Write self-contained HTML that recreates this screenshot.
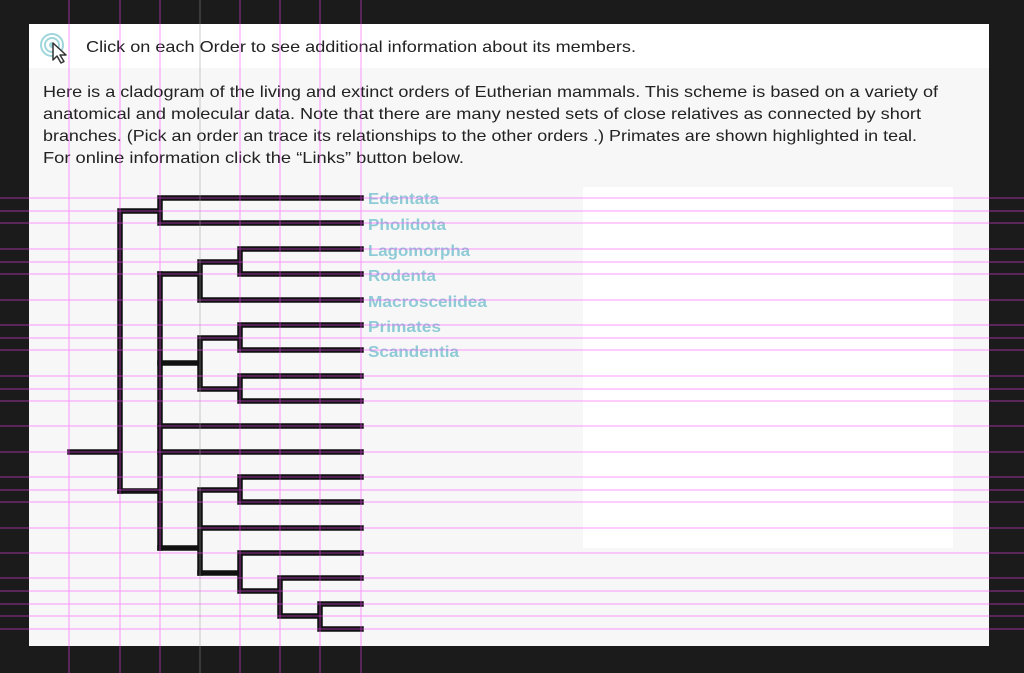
<!DOCTYPE html>
<html><head><meta charset="utf-8"><style>
html,body{margin:0;padding:0;background:#1b1b1b;width:1024px;height:673px;overflow:hidden}
svg{display:block}
text{font-family:"Liberation Sans",sans-serif}
</style></head><body>
<svg width="1024" height="673" viewBox="0 0 1024 673" xmlns="http://www.w3.org/2000/svg">
<rect x="0" y="0" width="1024" height="673" fill="#1b1b1b"/>
<rect x="29" y="24" width="960" height="622" fill="#f7f7f7"/>
<rect x="29" y="24" width="960" height="44" fill="#ffffff"/>
<rect x="583" y="187" width="370" height="361" fill="#ffffff"/>
<!-- icon -->
<circle cx="52" cy="45" r="11" fill="none" stroke="#9fd6dc" stroke-width="2"/>
<circle cx="52" cy="45" r="7" fill="none" stroke="#9fd6dc" stroke-width="2"/>
<circle cx="52" cy="45" r="3" fill="#9fd6dc"/>
<path d="M53 43 L53 60 L57 56 L61 63 L64 61.5 L60 55 L66 55 Z" fill="#fff" stroke="#333" stroke-width="1.5" stroke-linejoin="round"/>
<text x="86" y="52" font-size="16" fill="#222" textLength="550" lengthAdjust="spacingAndGlyphs">Click on each Order to see additional information about its members.</text>
<g font-size="16" fill="#222">
<text x="43" y="97" textLength="895" lengthAdjust="spacingAndGlyphs">Here is a cladogram of the living and extinct orders of Eutherian mammals. This scheme is based on a variety of</text>
<text x="43" y="119" textLength="878" lengthAdjust="spacingAndGlyphs">anatomical and molecular data. Note that there are many nested sets of close relatives as connected by short</text>
<text x="43" y="141" textLength="874" lengthAdjust="spacingAndGlyphs">branches. (Pick an order an trace its relationships to the other orders .) Primates are shown highlighted in teal.</text>
<text x="43" y="163" textLength="421" lengthAdjust="spacingAndGlyphs">For online information click the “Links” button below.</text>
</g>
<!-- tree -->
<g fill="none" stroke="#111" stroke-width="5.5" stroke-linecap="square" stroke-linejoin="miter">
<path d="M70 452 H120 M120 211 V491 M120 211 H160 M160 198 V223 M160 198 H361 M160 223 H361"/>
<path d="M120 491 H160 M160 274 V548"/>
<path d="M160 274 H200 M200 262 V300 M200 262 H240 M240 249 V274 M240 249 H361 M240 274 H361 M200 300 H361"/>
<path d="M160 363 H200 M200 338 V389 M200 338 H240 M240 325 V350 M240 325 H361 M240 350 H361 M200 389 H240 M240 376 V401 M240 376 H361 M240 401 H361"/>
<path d="M160 426 H361 M160 452 H361"/>
<path d="M160 548 H200 M200 490 V573 M200 490 H240 M240 477 V502 M240 477 H361 M240 502 H361 M200 528 H361"/>
<path d="M200 573 H240 M240 553 V591 M240 553 H361 M240 591 H280 M280 578 V616 M280 578 H361 M280 616 H320 M320 604 V629 M320 604 H361 M320 629 H361"/>
</g>
<g font-size="16" font-weight="bold" fill="#8ecbd6">
<text x="368" y="204" textLength="71" lengthAdjust="spacingAndGlyphs">Edentata</text>
<text x="368" y="230" textLength="78" lengthAdjust="spacingAndGlyphs">Pholidota</text>
<text x="368" y="256" textLength="102" lengthAdjust="spacingAndGlyphs">Lagomorpha</text>
<text x="368" y="281" textLength="68" lengthAdjust="spacingAndGlyphs">Rodenta</text>
<text x="368" y="307" textLength="119" lengthAdjust="spacingAndGlyphs">Macroscelidea</text>
<text x="368" y="332" textLength="73" lengthAdjust="spacingAndGlyphs">Primates</text>
<text x="368" y="357" textLength="91" lengthAdjust="spacingAndGlyphs">Scandentia</text>
</g>
<!-- guides -->
<g stroke="#ff44ff" stroke-width="1" opacity="0.55">
<path d="M69 0V673 M120 0V673 M160 0V673 M240 0V673 M280 0V673 M320 0V673 M361 0V673"/>
<path d="M0 198H1024 M0 211H1024 M0 223H1024 M0 249H1024 M0 262H1024 M0 274H1024 M0 300H1024 M0 325H1024 M0 338H1024 M0 350H1024 M0 376H1024 M0 389H1024 M0 401H1024 M0 426H1024 M0 452H1024 M0 477H1024 M0 490H1024 M0 502H1024 M0 528H1024 M0 553H1024 M0 578H1024 M0 591H1024 M0 604H1024 M0 616H1024 M0 629H1024"/>
</g>
<path d="M200 0V673" stroke="#999" stroke-width="1" opacity="0.5"/>
</svg>
</body></html>
